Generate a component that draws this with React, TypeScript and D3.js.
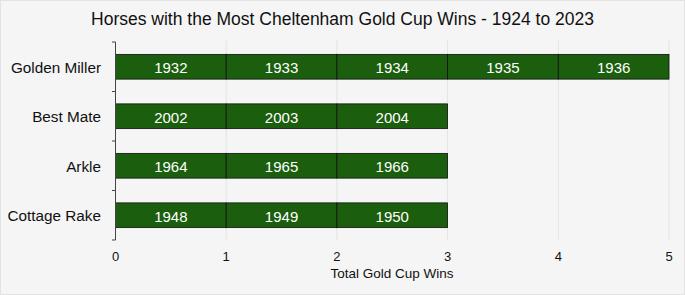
import React from "react";
import * as d3 from "d3";

const horses = ["Golden Miller", "Best Mate", "Arkle", "Cottage Rake"];
const winYears: number[][] = [
  [1932, 1933, 1934, 1935, 1936],
  [2002, 2003, 2004],
  [1964, 1965, 1966],
  [1948, 1949, 1950],
];
const xTicks = [0, 1, 2, 3, 4, 5];
const title = "Horses with the Most Cheltenham Gold Cup Wins - 1924 to 2023";
const xTitle = "Total Gold Cup Wins";

const W = 685;
const H = 295;
const FONT = "'Liberation Sans', Arial, sans-serif";

export default function App() {
  const x = d3.scaleLinear().domain([0, 5]).range([115.5, 669]);
  const y = d3.scaleBand().domain(horses).range([42, 240]).padding(0.5).paddingOuter(0.25);
  const boundaries = [0, 1, 2, 3, 4].map((i) => 42 + (i * (240 - 42)) / 4);
  return (
    <svg width={W} height={H} style={{ position: "fixed", top: 0, left: 0, fontFamily: FONT }}>
      <rect x={0.5} y={0.5} width={W - 1} height={H - 1} fill="#f5f5f5" stroke="#e3e3e3" />
      <text x={W / 2} y={25} textAnchor="middle" fontSize={17.5} fill="#111">
        {title}
      </text>
      {xTicks.slice(1).map((t) => (
        <line key={t} x1={x(t)} x2={x(t)} y1={40} y2={240} stroke="#e4e4e4" strokeWidth={1} />
      ))}
      {horses.map((h, i) =>
        winYears[i].map((yr, j) => (
          <g key={h + yr}>
            <rect
              x={x(j)}
              y={y(h)!}
              width={x(j + 1) - x(j)}
              height={y.bandwidth()}
              fill="#1b5e0e"
              stroke="#111"
              strokeWidth={0.8}
            />
            <text
              x={(x(j) + x(j + 1)) / 2}
              y={y(h)! + y.bandwidth() / 2 + 6.5}
              textAnchor="middle"
              fontSize={15}
              fill="#fff"
            >
              {yr}
            </text>
          </g>
        ))
      )}
      <line x1={115.5} x2={115.5} y1={42} y2={240} stroke="#444" strokeWidth={1} />
      {boundaries.map((b, i) => (
        <line key={i} x1={112} x2={115.5} y1={b} y2={b} stroke="#444" strokeWidth={1} />
      ))}
      {horses.map((h) => (
        <text key={h} x={101} y={y(h)! + y.bandwidth() / 2 + 6} textAnchor="end" fontSize={15.3} fill="#111">
          {h}
        </text>
      ))}
      {xTicks.map((t) => (
        <text key={t} x={x(t)} y={261} textAnchor="middle" fontSize={13} fill="#111">
          {t}
        </text>
      ))}
      <text x={392} y={278} textAnchor="middle" fontSize={13.5} fill="#111">
        {xTitle}
      </text>
    </svg>
  );
}
